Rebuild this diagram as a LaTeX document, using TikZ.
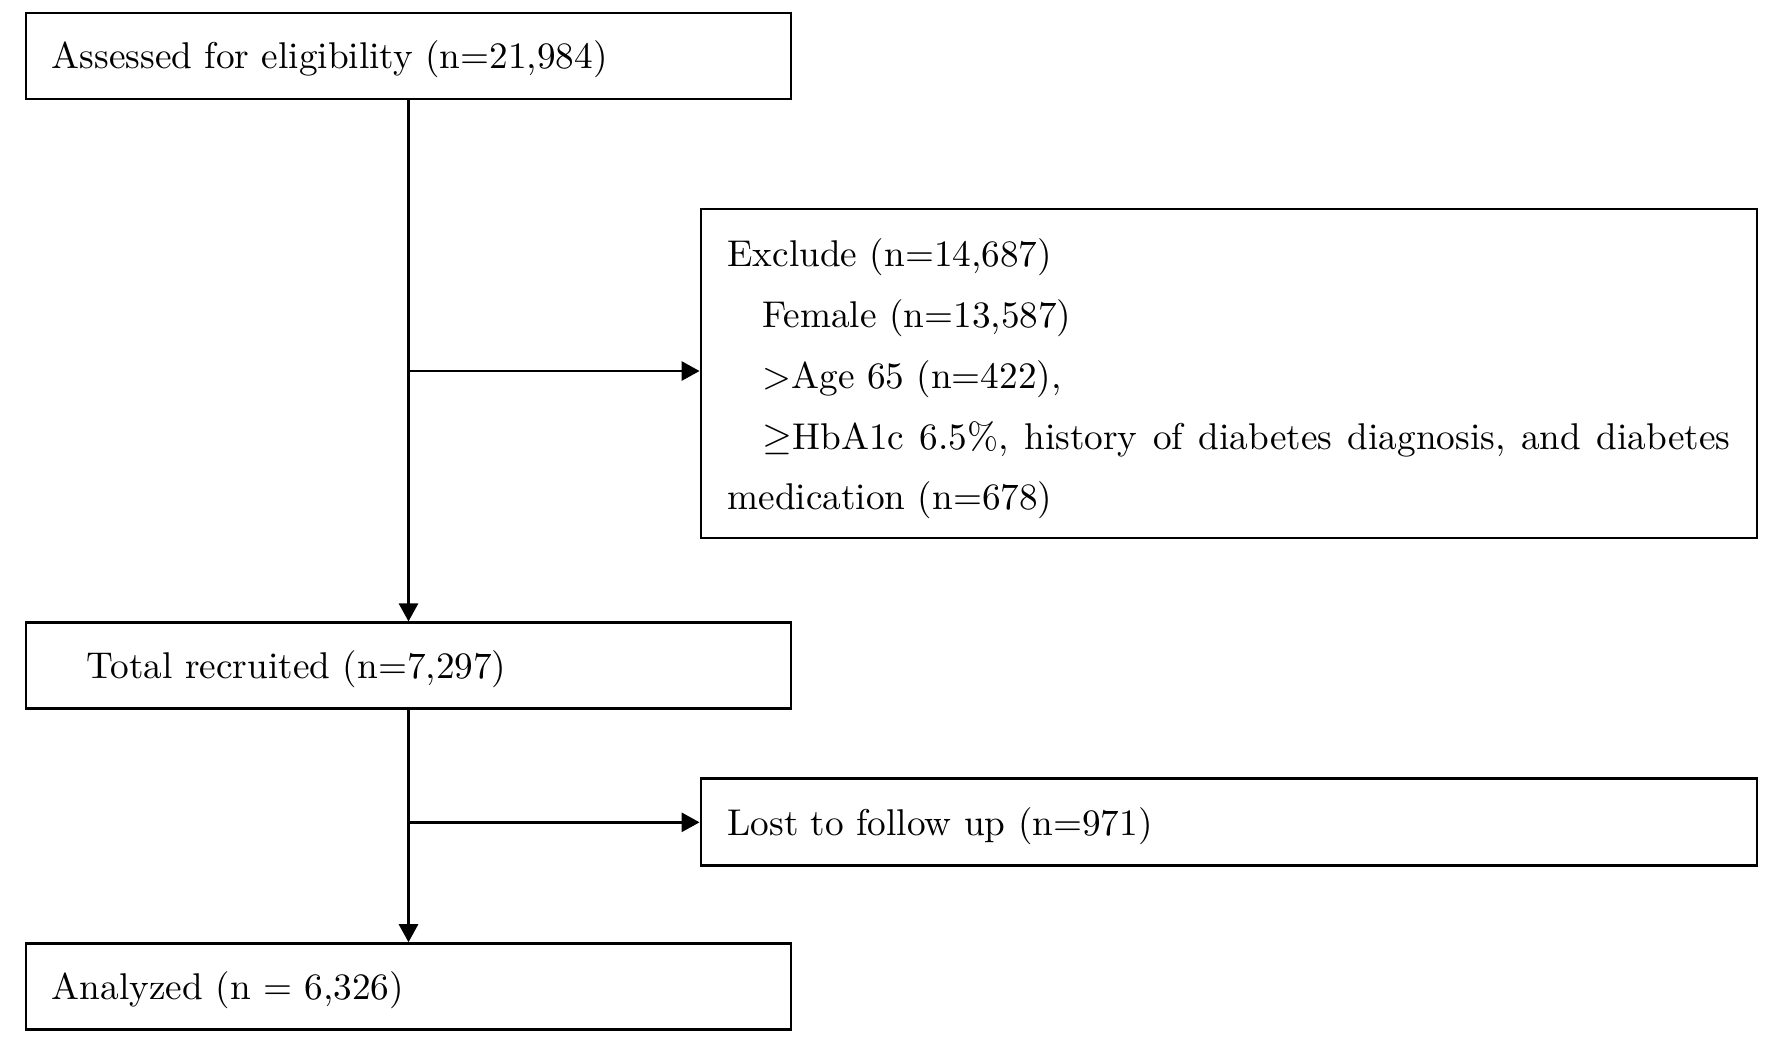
\documentclass[tikz,border=0pt]{standalone}
\usepackage{tikz}
\usetikzlibrary{arrows.meta,positioning}

\begin{document}
\begin{tikzpicture}[>={Triangle[length=1.8mm, width=1.9mm]}, line width=0.8pt,
	   font=\fontsize{10.6}{17.3}\selectfont, node distance=6mm,
	   box/.style={draw, minimum width=7.65cm, minimum height=0.86cm, text width=7.13cm, text depth=0.2mm, inner xsep=2.6mm, align=left},
	   sidebox/.style={draw, minimum width=10.56cm, minimum height=0.87cm, text width=10.03cm, inner xsep=2.65mm, align=left}]
	  \useasboundingbox (0,0) rectangle (17.72,-10.38);
	  \node[box] (assess) at (4.085,-0.56) {Assessed for eligibility (n=21,984)};
	  \node[box, below=5.21cm of assess] (total) {\hspace*{3.5mm}Total recruited (n=7,297)};
	  \node[box, below=2.32cm of total] (analyzed) {Analyzed (n = 6,326)};
	  \node[sidebox, minimum height=3.29cm] (exclude) at (12.29,-3.735) {\rule{0pt}{3.9mm}Exclude (n=14,687)\\
	    \hspace*{3.5mm}Female (n=13,587)\\
	    \hspace*{3.5mm}\textgreater Age 65 (n=422),\\
	    \makebox[10.03cm][s]{\hspace*{3.5mm}$\geq$HbA1c\hfill 6.5\%,\hfill history\hfill of\hfill diabetes\hfill diagnosis,\hfill and\hfill diabetes}\\
	    medication (n=678)};
	  \node[sidebox, text depth=0.2mm, below=2.38cm of exclude] (lost) {Lost to follow up (n=971)};
	  \coordinate (split1) at (assess.south |- 0,-3.71);
	  \coordinate (split2) at (total.south |- lost.west);
	  \draw[->] (assess)--(total); \draw[->] (split1)--(split1 -| exclude.west);
	  \draw[->] (total)--(analyzed); \draw[->] (split2)--(lost);
	\end{tikzpicture}
\end{document}
